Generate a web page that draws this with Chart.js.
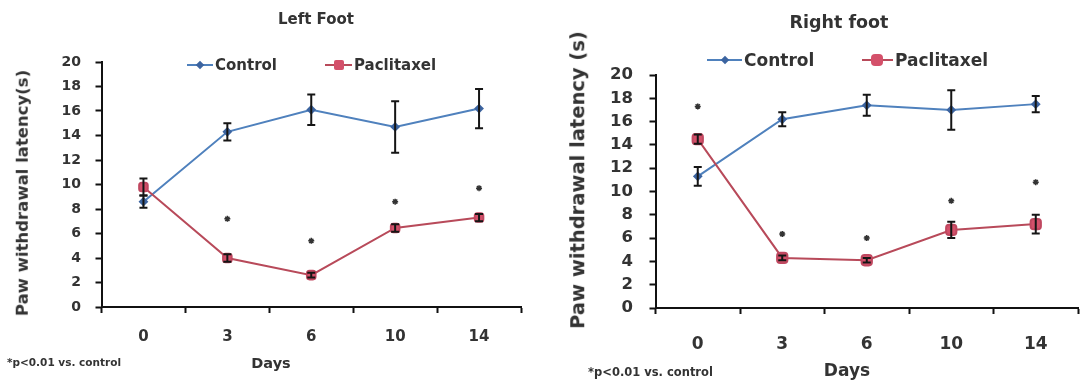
<!DOCTYPE html>
<html>
<head>
<meta charset="utf-8">
<script src="https://cdn.jsdelivr.net/npm/chart.js@4.4.1/dist/chart.umd.min.js"></script>
<style>
  html, body { margin: 0; padding: 0; background: #fff; }
  #wrap { position: relative; width: 1086px; height: 385px; overflow: hidden; background: #fff; }
  canvas { position: absolute; top: 0; }
  .t { position: absolute; font-family: "DejaVu Sans", sans-serif; font-weight: bold; color: #333; white-space: nowrap; line-height: 1; transform: translate(-50%, -50%); }
  .l { position: absolute; font-family: "DejaVu Sans", sans-serif; font-weight: bold; color: #333; white-space: nowrap; line-height: 1; transform: translateY(-50%); }
  .rot { transform: translate(-50%, -50%) rotate(-90deg); }
  .lg { position: absolute; height: 2px; }
  .mk { position: absolute; transform: translate(-50%, -50%); }
</style>
</head>
<body>
<div id="wrap">
  <canvas id="left" width="543" height="385" style="left:0px"></canvas>
  <canvas id="right" width="543" height="385" style="left:543px"></canvas>

  <div class="t" style="left:316px; top:19px; font-size:15px;">Left Foot</div>
  <div class="lg" style="left:187px; top:64px; width:26px; background:#4F81BD;"></div>
  <div class="mk" style="left:200px; top:65px; width:6px; height:6px; background:#3C64A0; transform:translate(-50%,-50%) rotate(45deg);"></div>
  <div class="l" style="left:215px; top:65px; font-size:15px;">Control</div>
  <div class="lg" style="left:325px; top:64px; width:27px; background:#B84A5A;"></div>
  <div class="mk" style="left:339px; top:65px; width:10px; height:10px; background:#D4506A; border-radius:2px;"></div>
  <div class="l" style="left:354px; top:65px; font-size:15px;">Paclitaxel</div>
  <div class="t rot" style="left:23px; top:193px; font-size:16.5px;">Paw withdrawal latency(s)</div>
  <div class="t" style="left:271px; top:363px; font-size:14.5px;">Days</div>
  <div class="l" style="left:7px; top:362px; font-size:10.5px;">*p&lt;0.01 vs. control</div>

  <div class="t" style="left:839px; top:23px; font-size:17.5px;">Right foot</div>
  <div class="lg" style="left:707px; top:59px; width:35px; background:#4F81BD;"></div>
  <div class="mk" style="left:725px; top:60px; width:6px; height:6px; background:#3C64A0; transform:translate(-50%,-50%) rotate(45deg);"></div>
  <div class="l" style="left:744px; top:60px; font-size:17px;">Control</div>
  <div class="lg" style="left:862px; top:59px; width:31px; background:#B84A5A;"></div>
  <div class="mk" style="left:877px; top:60px; width:12px; height:12px; background:#D4506A; border-radius:4px;"></div>
  <div class="l" style="left:895px; top:60px; font-size:17px;">Paclitaxel</div>
  <div class="t rot" style="left:578px; top:180px; font-size:19.5px;">Paw withdrawal latency (s)</div>
  <div class="t" style="left:847px; top:370px; font-size:17px;">Days</div>
  <div class="l" style="left:588px; top:373px; font-size:11.5px;">*p&lt;0.01 vs. control</div>
</div>
<script>
// ---- data ----
const days = ['0', '3', '6', '10', '14'];
const yTicks = [0, 2, 4, 6, 8, 10, 12, 14, 16, 18, 20];

const leftControl = [8.6, 14.3, 16.1, 14.7, 16.2];
const leftControlErr = [0.5, 0.7, 1.25, 2.1, 1.6];
const leftPaclitaxel = [9.8, 4.0, 2.6, 6.45, 7.3];
const leftPaclitaxelErr = [0.7, 0.3, 0.2, 0.3, 0.3];
const leftSignif = [null, 7.2, 5.4, 8.6, 9.7];

const rightControl = [11.3, 16.2, 17.4, 17.0, 17.5];
const rightControlErr = [0.8, 0.6, 0.9, 1.7, 0.7];
const rightPaclitaxel = [14.5, 4.3, 4.1, 6.7, 7.2];
const rightPaclitaxelErr = [0.4, 0.2, 0.2, 0.7, 0.8];
const rightSignif = [17.3, 6.35, 6.0, 9.2, 10.8];

const errorBars = {
  id: 'errorBars',
  afterDatasetsDraw(chart) {
    const ctx = chart.ctx;
    const ys = chart.scales.y;
    chart.data.datasets.forEach((ds, i) => {
      if (!ds.errors) return;
      const meta = chart.getDatasetMeta(i);
      meta.data.forEach((pt, j) => {
        const v = ds.data[j], e = ds.errors[j];
        if (v == null || !e) return;
        const top = ys.getPixelForValue(v + e);
        const bot = ys.getPixelForValue(v - e);
        ctx.save();
        ctx.strokeStyle = '#151515';
        ctx.lineWidth = 2;
        ctx.beginPath();
        ctx.moveTo(pt.x, top); ctx.lineTo(pt.x, bot);
        ctx.moveTo(pt.x - 4, top); ctx.lineTo(pt.x + 4, top);
        ctx.moveTo(pt.x - 4, bot); ctx.lineTo(pt.x + 4, bot);
        ctx.stroke();
        ctx.restore();
      });
    });
  }
};

function makeChart(id, cfg) {
  return new Chart(document.getElementById(id), {
    type: 'line',
    data: {
      labels: days,
      datasets: [
        { label: 'Control', data: cfg.control, errors: cfg.controlErr,
          borderColor: '#4F81BD', backgroundColor: '#3C64A0', borderWidth: 2,
          pointStyle: 'rectRot', pointRadius: 3.5, pointBorderColor: '#3C64A0', tension: 0, order: 2 },
        { label: 'Paclitaxel', data: cfg.pac, errors: cfg.pacErr,
          borderColor: '#B84A5A', backgroundColor: '#D4506A', borderWidth: 2,
          pointStyle: 'rectRounded', pointRadius: cfg.pacRadius, pointBorderColor: '#C04860', tension: 0, order: 1 },
        { label: 'p<0.01', data: cfg.sig, showLine: false,
          pointStyle: 'star', pointRadius: 3, borderColor: '#333', backgroundColor: '#333', borderWidth: 1.5, order: 0 }
      ]
    },
    options: {
      responsive: false,
      animation: false,
      layout: { padding: { left: 0, right: cfg.padRight, top: cfg.top, bottom: 0 } },
      plugins: { legend: { display: false }, title: { display: false }, tooltip: { enabled: false } },
      scales: {
        x: {
          type: 'category',
          offset: true,
          grid: { offset: true, drawOnChartArea: false, drawTicks: true, tickLength: 6, tickColor: '#111', tickWidth: 2 },
          border: { display: true, color: '#111', width: 2 },
          ticks: { color: '#333', font: { family: 'DejaVu Sans', weight: 'bold', size: cfg.xFont }, padding: cfg.xPad, maxRotation: 0 },
          afterFit(s) { s.height = 385 - cfg.bottomAxis; }
        },
        y: {
          min: 0, max: 20,
          afterBuildTicks(s) { s.ticks = yTicks.map(v => ({ value: v })); },
          grid: { drawOnChartArea: false, drawTicks: true, tickLength: 6, tickColor: '#111', tickWidth: 2 },
          border: { display: true, color: '#111', width: 2 },
          ticks: { color: '#333', font: { family: 'DejaVu Sans', weight: 'bold', size: cfg.yFont }, padding: cfg.yPad },
          afterFit(s) { s.width = cfg.axisX; }
        }
      }
    },
    plugins: [errorBars]
  });
}

makeChart('left', {
  control: leftControl, controlErr: leftControlErr,
  pac: leftPaclitaxel, pacErr: leftPaclitaxelErr, sig: leftSignif,
  pacRadius: 5, axisX: 101.5, padRight: 22, top: 62, bottomAxis: 307,
  xFont: 15, xPad: 15, yFont: 14, yPad: 14.5
});
makeChart('right', {
  control: rightControl, controlErr: rightControlErr,
  pac: rightPaclitaxel, pacErr: rightPaclitaxelErr, sig: rightSignif,
  pacRadius: 6, axisX: 112.5, padRight: 0, top: 75, bottomAxis: 308,
  xFont: 17, xPad: 20, yFont: 16.5, yPad: 16.5
});
</script>
</body>
</html>
